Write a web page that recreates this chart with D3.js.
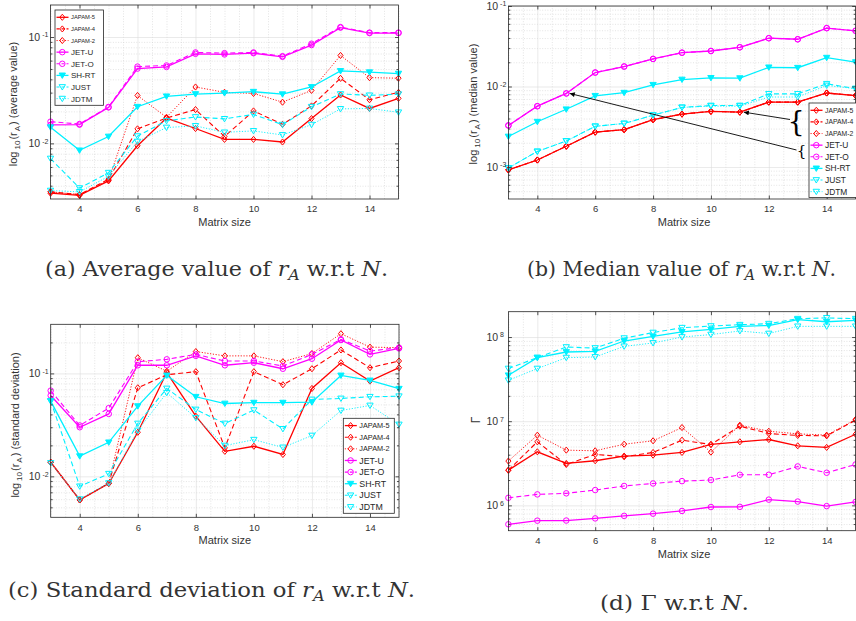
<!DOCTYPE html>
<html>
<head>
<meta charset="utf-8">
<script src="https://cdn.jsdelivr.net/npm/d3@7"></script>
<style>
  body { margin: 0; background: #fff; }
  svg { display: block; font-family: "Liberation Sans", Arial, sans-serif; }
</style>
</head>
<body>
<script>
const W = 856, H = 621;

const sizes = [3, 4, 5, 6, 7, 8, 9, 10, 11, 12, 13, 14, 15];
const seriesNames = ['JAPAM-5', 'JAPAM-4', 'JAPAM-2', 'JET-U', 'JET-O', 'SH-RT', 'JUST', 'JDTM'];
const xTicks = [4, 6, 8, 10, 12, 14];

// (a) average value of r_A
const avgJAPAM5 = [0.0034, 0.00324, 0.00444, 0.0095, 0.0173, 0.0138, 0.0109, 0.0109, 0.0103, 0.0171, 0.0285, 0.0213, 0.0265];
const avgJAPAM4 = [0.0035, 0.0033, 0.0046, 0.0137, 0.0173, 0.0208, 0.0116, 0.0202, 0.0151, 0.0225, 0.0409, 0.0257, 0.0302];
const avgJAPAM2 = [0.0035, 0.0033, 0.0045, 0.0282, 0.0176, 0.0339, 0.0302, 0.0295, 0.0244, 0.0315, 0.0671, 0.0415, 0.041];
const avgJETU = [0.0149, 0.0150, 0.0218, 0.0505, 0.0523, 0.0695, 0.0686, 0.0705, 0.0652, 0.084, 0.1225, 0.109, 0.109];
const avgJETO = [0.016, 0.0152, 0.022, 0.0527, 0.054, 0.0716, 0.0705, 0.0716, 0.066, 0.0865, 0.124, 0.11, 0.11];
const avgSHRT = [0.0142, 0.0086, 0.0116, 0.0221, 0.0277, 0.0291, 0.0297, 0.0306, 0.029, 0.0339, 0.048, 0.0467, 0.0453];
const avgJUST = [0.0072, 0.0038, 0.0053, 0.0117, 0.0163, 0.0177, 0.0170, 0.0187, 0.015, 0.0221, 0.0291, 0.0283, 0.029];
const avgJDTM = [0.0036, 0.0035, 0.0049, 0.0104, 0.0141, 0.0146, 0.0127, 0.0131, 0.012, 0.015, 0.0211, 0.0213, 0.0196];

// (b) median value of r_A
const medJAPAM5 = [0.00092, 0.00122, 0.00181, 0.00271, 0.00291, 0.00387, 0.00454, 0.00491, 0.0048, 0.0064, 0.0064, 0.0083, 0.0077];
const medJAPAM4 = [0.00092, 0.00122, 0.00181, 0.00271, 0.00291, 0.00387, 0.00454, 0.00491, 0.0048, 0.0064, 0.0064, 0.0083, 0.0077];
const medJAPAM2 = [0.00092, 0.00122, 0.00181, 0.00271, 0.00291, 0.00387, 0.00454, 0.00491, 0.0048, 0.0064, 0.0064, 0.0083, 0.0077];
const medJETU = [0.00328, 0.00569, 0.0082, 0.0149, 0.0177, 0.022, 0.0263, 0.0276, 0.0307, 0.0398, 0.0386, 0.0531, 0.0492];
const medJETO = [0.00328, 0.00569, 0.0082, 0.0149, 0.0177, 0.022, 0.0263, 0.0276, 0.0307, 0.0398, 0.0386, 0.0531, 0.0492];
const medSHRT = [0.00239, 0.00365, 0.00521, 0.00766, 0.00837, 0.0105, 0.0122, 0.0128, 0.0127, 0.0173, 0.0171, 0.0228, 0.0201];
const medJUST = [0.00097, 0.00156, 0.0021, 0.0032, 0.00347, 0.0044, 0.0055, 0.0058, 0.0058, 0.0081, 0.0081, 0.0108, 0.0094];
const medJDTM = [0.00097, 0.00156, 0.0021, 0.0032, 0.00347, 0.0044, 0.0055, 0.0057, 0.0057, 0.0074, 0.0074, 0.0103, 0.0094];

// (c) standard deviation of r_A
const stdJAPAM5 = [0.0137, 0.0059, 0.0085, 0.0268, 0.102, 0.0384, 0.0175, 0.0196, 0.0163, 0.0714, 0.127, 0.0842, 0.1136];
const stdJAPAM4 = [0.0137, 0.0059, 0.0086, 0.0725, 0.097, 0.104, 0.0189, 0.104, 0.0776, 0.111, 0.169, 0.1136, 0.132];
const stdJAPAM2 = [0.0137, 0.0059, 0.0086, 0.142, 0.105, 0.163, 0.148, 0.148, 0.13, 0.156, 0.243, 0.18, 0.178];
const stdJETU = [0.061, 0.030, 0.0404, 0.12, 0.12, 0.148, 0.12, 0.127, 0.111, 0.139, 0.211, 0.153, 0.175];
const stdJETO = [0.068, 0.0312, 0.046, 0.13, 0.137, 0.153, 0.132, 0.132, 0.118, 0.153, 0.214, 0.165, 0.178];
const stdSHRT = [0.0538, 0.0157, 0.0214, 0.0481, 0.0956, 0.0593, 0.051, 0.052, 0.052, 0.0525, 0.0956, 0.0855, 0.071];
const stdJUST = [0.054, 0.008, 0.0106, 0.0326, 0.0714, 0.0446, 0.0326, 0.044, 0.0289, 0.0558, 0.0571, 0.0593, 0.06];
const stdJDTM = [0.0135, 0.006, 0.0086, 0.0279, 0.0648, 0.037, 0.0199, 0.0227, 0.0191, 0.0249, 0.0436, 0.0488, 0.0319];

// (d) Gamma
const gamJAPAM5 = [2.62e6, 4.33e6, 3.15e6, 3.39e6, 3.85e6, 3.95e6, 4.25e6, 5.29e6, 5.69e6, 6.06e6, 5.1e6, 4.88e6, 7.0e6];
const gamJAPAM4 = [2.62e6, 5.69e6, 3.06e6, 4.03e6, 3.78e6, 4.25e6, 5.95e6, 5.29e6, 8.73e6, 7.14e6, 6.77e6, 6.7e6, 1.03e7];
const gamJAPAM2 = [3.36e6, 6.82e6, 4.53e6, 4.45e6, 5.33e6, 5.85e6, 8.41e6, 4.29e6, 8.97e6, 7.6e6, 7.08e6, 6.82e6, 1.05e7];
const gamJETU = [5.96e5, 6.58e5, 6.6e5, 7.0e5, 7.5e5, 7.97e5, 8.58e5, 9.56e5, 9.6e5, 1.17e6, 1.11e6, 9.8e5, 1.1e6];
const gamJETO = [1.23e6, 1.35e6, 1.39e6, 1.52e6, 1.7e6, 1.82e6, 1.94e6, 2.0e6, 2.31e6, 2.31e6, 2.9e6, 2.44e6, 3.06e6];
const gamSHRT = [3.51e7, 5.69e7, 6.64e7, 6.76e7, 8.97e7, 1.02e8, 1.15e8, 1.23e8, 1.34e8, 1.37e8, 1.61e8, 1.52e8, 1.58e8];
const gamJUST = [4.22e7, 5.7e7, 7.6e7, 7.4e7, 9.7e7, 1.13e8, 1.29e8, 1.35e8, 1.4e8, 1.44e8, 1.65e8, 1.69e8, 1.65e8];
const gamJDTM = [3.06e7, 4.22e7, 5.69e7, 5.8e7, 7.75e7, 8.5e7, 1.0e8, 1.07e8, 1.18e8, 1.1e8, 1.34e8, 1.34e8, 1.34e8];

// line / marker look of each series, same order as seriesNames
const seriesStyle = [
  { color: '#ff0000', dash: null, marker: 'diamond', width: 1.3 },
  { color: '#ff0000', dash: '5,3', marker: 'diamond', width: 1.1 },
  { color: '#ff0000', dash: '1.2,1.6', marker: 'diamond', width: 0.9 },
  { color: '#ff00ff', dash: null, marker: 'circle', width: 1.3 },
  { color: '#ff00ff', dash: '5,3', marker: 'circle', width: 1.1 },
  { color: '#00f0ff', dash: null, marker: 'tri', width: 1.3, filled: true },
  { color: '#00f0ff', dash: '5,3', marker: 'tri', width: 1.1 },
  { color: '#00f0ff', dash: '1.2,1.6', marker: 'tri', width: 0.9 }
];

const diamond = {
  draw(ctx, size) {
    const r = Math.sqrt(size) / 2;
    ctx.moveTo(0, -r * 1.2); ctx.lineTo(r, 0); ctx.lineTo(0, r * 1.2); ctx.lineTo(-r, 0); ctx.closePath();
  }
};
const triDown = {
  draw(ctx, size) {
    const r = Math.sqrt(size) / 2;
    ctx.moveTo(-r, -r * 0.75); ctx.lineTo(r, -r * 0.75); ctx.lineTo(0, r * 0.95); ctx.closePath();
  }
};
const symbolOf = { diamond: d3.symbol(diamond, 26), circle: d3.symbol(d3.symbolCircle, 24), tri: d3.symbol(triDown, 40) };

const panels = [
  { left: 50.5, right: 398.5, top: 5, bottom: 199, domain: [0.003, 0.2],
    data: [avgJAPAM5, avgJAPAM4, avgJAPAM2, avgJETU, avgJETO, avgSHRT, avgJUST, avgJDTM],
    ylab: ' (average value)', ylabX: 13, ylabY: 104,
    legend: { x: 55, y: 10, w: 48.5, h: 95.3, small: 5.8, big: 8 } },
  { left: 508.4, right: 855.6, top: 6, bottom: 199, domain: [4e-4, 0.1],
    data: [medJAPAM5, medJAPAM4, medJAPAM2, medJETU, medJETO, medSHRT, medJUST, medJDTM],
    ylab: ' (median value)', ylabX: 473, ylabY: 104,
    legend: { x: 809, y: 103, w: 52, h: 94.5, small: 6.8, big: 8.4 } },
  { left: 50.7, right: 399, top: 324.3, bottom: 517.3, domain: [0.004, 0.3],
    data: [stdJAPAM5, stdJAPAM4, stdJAPAM2, stdJETU, stdJETO, stdSHRT, stdJUST, stdJDTM],
    ylab: ' (standard deviation)', ylabX: 15, ylabY: 425,
    legend: { x: 343.3, y: 418.3, w: 51, h: 95, small: 7.3, big: 8.8 } },
  { left: 508.4, right: 855.6, top: 311.7, bottom: 530.7, domain: [5e5, 2e8],
    data: [gamJAPAM5, gamJAPAM4, gamJAPAM2, gamJETU, gamJETO, gamSHRT, gamJUST, gamJDTM],
    gamma: true, ylabX: 476, ylabY: 420, legend: null }
];

const svg = d3.select('body').append('svg').attr('width', W).attr('height', H);

const defs = svg.append('defs');
defs.append('marker')
  .attr('id', 'head')
  .attr('viewBox', '0 0 10 10')
  .attr('refX', 10).attr('refY', 5)
  .attr('markerWidth', 7).attr('markerHeight', 5)
  .attr('markerUnits', 'userSpaceOnUse')
  .attr('orient', 'auto')
  .append('path').attr('d', 'M0,0L10,5L0,10Z').attr('fill', '#000');

const AX = '#262626';

function drawPanel(p) {
  const g = svg.append('g');
  const x = d3.scaleLinear().domain([3, 15]).range([p.left, p.right]);
  const y = d3.scaleLog().domain(p.domain).range([p.bottom, p.top]);
  const w = p.right - p.left, h = p.bottom - p.top;

  const lo = Math.floor(Math.log10(p.domain[0])), hi = Math.ceil(Math.log10(p.domain[1]));
  const majorY = [], minorY = [];
  for (let e = lo; e <= hi; e++) {
    const v = Math.pow(10, e);
    if (v >= p.domain[0] && v <= p.domain[1]) majorY.push(v);
    for (let k = 2; k < 10; k++) {
      const m = k * v;
      if (m > p.domain[0] && m < p.domain[1]) minorY.push(m);
    }
  }
  const minorX = [];
  for (let v = 3; v <= 15; v += 0.5) if (v % 2 !== 0) minorX.push(v);

  // grid lines
  const gridStyle = (sel, col, dash) => {
    sel.select('.domain').remove();
    sel.selectAll('line').attr('stroke', col).attr('stroke-width', 0.6).attr('stroke-dasharray', dash);
  };
  g.append('g').attr('transform', `translate(${p.left},0)`)
    .call(d3.axisLeft(y).tickValues(minorY).tickSize(-w).tickFormat(''))
    .call(gridStyle, '#d2d2d2', '1,1.6');
  g.append('g').attr('transform', `translate(0,${p.bottom})`)
    .call(d3.axisBottom(x).tickValues(minorX).tickSize(-h).tickFormat(''))
    .call(gridStyle, '#d2d2d2', '1,1.6');
  g.append('g').attr('transform', `translate(${p.left},0)`)
    .call(d3.axisLeft(y).tickValues(majorY).tickSize(-w).tickFormat(''))
    .call(gridStyle, '#dcdcdc', null);
  g.append('g').attr('transform', `translate(0,${p.bottom})`)
    .call(d3.axisBottom(x).tickValues(xTicks).tickSize(-h).tickFormat(''))
    .call(gridStyle, '#dcdcdc', null);

  // series
  const line = d3.line().x((d, i) => x(sizes[i])).y(d => y(d));
  p.data.forEach((vals, si) => {
    const st = seriesStyle[si];
    g.append('path').datum(vals)
      .attr('d', line)
      .attr('fill', 'none')
      .attr('stroke', st.color)
      .attr('stroke-width', st.width)
      .attr('stroke-dasharray', st.dash);
    g.append('g').selectAll('path').data(vals).join('path')
      .attr('transform', (d, i) => `translate(${x(sizes[i])},${y(d)})`)
      .attr('d', symbolOf[st.marker])
      .attr('fill', st.filled ? st.color : 'none')
      .attr('stroke', st.color)
      .attr('stroke-width', 1);
  });

  // box and ticks
  g.append('rect').attr('x', p.left).attr('y', p.top).attr('width', w).attr('height', h)
    .attr('fill', 'none').attr('stroke', AX).attr('stroke-width', 0.8);

  const tickStyle = sel => {
    sel.select('.domain').remove();
    sel.selectAll('line').attr('stroke', AX).attr('stroke-width', 0.8);
    sel.selectAll('text').attr('fill', '#333').attr('font-family', '"Liberation Sans", Arial, sans-serif');
  };
  const yLeft = g.append('g').attr('transform', `translate(${p.left},0)`)
    .call(d3.axisLeft(y).tickValues(majorY).tickSize(-3.5).tickPadding(12))
    .call(tickStyle);
  yLeft.selectAll('text')
    .attr('font-size', 10.5)
    .text('10')
    .append('tspan')
    .attr('dy', '-0.5em')
    .attr('dx', '2')
    .attr('font-size', 7)
    .text(d => String(Math.round(Math.log10(d))));
  yLeft.selectAll('text').attr('text-anchor', 'start').attr('x', -22);
  g.append('g').attr('transform', `translate(${p.left},0)`)
    .call(d3.axisLeft(y).tickValues(minorY).tickSize(-2).tickFormat(''))
    .call(tickStyle);
  g.append('g').attr('transform', `translate(${p.right},0)`)
    .call(d3.axisRight(y).tickValues(majorY).tickSize(-3.5).tickFormat(''))
    .call(tickStyle);
  g.append('g').attr('transform', `translate(${p.right},0)`)
    .call(d3.axisRight(y).tickValues(minorY).tickSize(-2).tickFormat(''))
    .call(tickStyle);
  g.append('g').attr('transform', `translate(0,${p.bottom})`)
    .call(d3.axisBottom(x).tickValues(xTicks).tickSize(-3.5).tickPadding(6.5))
    .call(tickStyle)
    .selectAll('text').attr('font-size', 9.5);
  g.append('g').attr('transform', `translate(0,${p.top})`)
    .call(d3.axisTop(x).tickValues(xTicks).tickSize(-3.5).tickFormat(''))
    .call(tickStyle);

  g.append('text')
    .attr('x', (p.left + p.right) / 2 + (p.right > 800 ? 2 : 0))
    .attr('y', p.bottom + 27)
    .attr('text-anchor', 'middle')
    .attr('font-size', 11)
    .attr('fill', '#333')
    .text('Matrix size');

  // y axis label
  const yl = g.append('text')
    .attr('transform', `translate(${p.ylabX},${p.ylabY}) rotate(-90)`)
    .attr('text-anchor', 'middle')
    .attr('dy', '0.35em')
    .attr('font-size', 11)
    .attr('fill', '#333');
  if (p.gamma) {
    yl.attr('font-size', 12).text('\u0393');
  } else {
    yl.append('tspan').text('log');
    yl.append('tspan').attr('dy', 3).attr('dx', 2).attr('font-size', 8).text('10');
    yl.append('tspan').attr('dy', -3).attr('dx', 1).text('(r');
    yl.append('tspan').attr('dy', 3).attr('dx', 1).attr('font-size', 8).text('A');
    yl.append('tspan').attr('dy', -3).attr('dx', 1).text(')' + p.ylab);
  }

  if (p.legend) drawLegend(g, p.legend);
}

function drawLegend(g, L) {
  const lg = g.append('g');
  lg.append('rect').attr('x', L.x).attr('y', L.y).attr('width', L.w).attr('height', L.h)
    .attr('fill', '#fff').attr('stroke', AX).attr('stroke-width', 0.8);
  const rowH = 11.62;
  seriesNames.forEach((name, i) => {
    const st = seriesStyle[i];
    const cy = L.y + 7.3 + i * rowH;
    lg.append('line')
      .attr('x1', L.x + 1.5).attr('x2', L.x + 13.5).attr('y1', cy).attr('y2', cy)
      .attr('stroke', st.color).attr('stroke-width', st.width)
      .attr('stroke-dasharray', st.dash ? (st.dash === '5,3' ? '3,2' : st.dash) : null);
    lg.append('path')
      .attr('transform', `translate(${L.x + 7.3},${cy})`)
      .attr('d', symbolOf[st.marker])
      .attr('fill', st.filled ? st.color : 'none')
      .attr('stroke', st.color).attr('stroke-width', 1);
    lg.append('text')
      .attr('x', L.x + 16).attr('y', cy).attr('dy', '0.36em')
      .attr('font-size', i < 3 ? L.small : L.big)
      .attr('fill', '#262626')
      .text(name);
  });
}

panels.forEach(drawPanel);

// annotations in panel (b)
const pb = panels[1];
const xb = d3.scaleLinear().domain([3, 15]).range([pb.left, pb.right]);
const yb = d3.scaleLog().domain(pb.domain).range([pb.bottom, pb.top]);
svg.append('line')
  .attr('x1', 790).attr('y1', 119.5)
  .attr('x2', xb(sizes[8]) + 4).attr('y2', yb(medJAPAM5[8]))
  .attr('stroke', '#000').attr('stroke-width', 0.9).attr('marker-end', 'url(#head)');
svg.append('line')
  .attr('x1', 796.5).attr('y1', 150)
  .attr('x2', xb(sizes[2]) + 3.5).attr('y2', yb(medJETU[2]))
  .attr('stroke', '#000').attr('stroke-width', 0.9).attr('marker-end', 'url(#head)');
svg.append('text').attr('x', 796).attr('y', 130.5).attr('text-anchor', 'middle')
  .attr('font-family', '"DejaVu Serif", serif').attr('font-size', 27).text('{');
svg.append('text').attr('x', 801.5).attr('y', 156).attr('text-anchor', 'middle')
  .attr('font-family', '"DejaVu Serif", serif').attr('font-size', 15).text('{');

// sub-figure captions
const captions = [
  { label: '(a) Average value of ', cx: 216.5, y: 276, len: 343, ra: true },
  { label: '(b) Median value of ', cx: 681.5, y: 276, len: 309, ra: true },
  { label: '(c) Standard deviation of ', cx: 211.5, y: 597, len: 407, ra: true },
  { label: '(d) \u0393', cx: 674.5, y: 610, len: 149, ra: false }
];
captions.forEach(c => {
  const t = svg.append('text')
    .attr('x', c.cx).attr('y', c.y)
    .attr('text-anchor', 'middle')
    .attr('font-family', '"DejaVu Serif", "Liberation Serif", serif')
    .attr('font-size', 19.5)
    .attr('fill', '#333')
    .attr('textLength', c.len)
    .attr('lengthAdjust', 'spacingAndGlyphs');
  t.append('tspan').text(c.label);
  if (c.ra) {
    t.append('tspan').attr('font-style', 'italic').text('r');
    t.append('tspan').attr('font-style', 'italic').attr('font-size', 14).attr('dy', 4).text('A');
    t.append('tspan').attr('dy', -4).text(' w.r.t ');
  } else {
    t.append('tspan').text(' w.r.t ');
  }
  t.append('tspan').attr('font-style', 'italic').text('N');
  t.append('tspan').text('.');
});
</script>
</body>
</html>
